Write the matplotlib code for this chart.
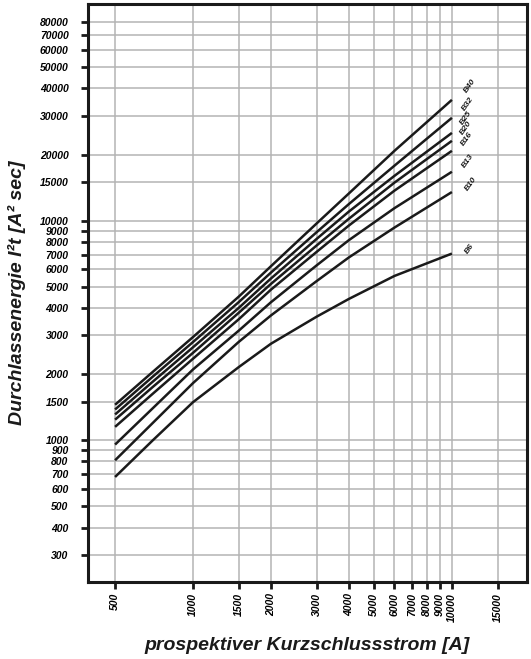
import matplotlib.pyplot as plt
from matplotlib.ticker import FixedLocator, NullLocator, FixedFormatter

# Prospective short-circuit current [A] where the curves were read
current = [500, 700, 1000, 1500, 2000, 3000, 4000, 6000, 10000]

# Let-through energy I²t [A² s] per breaker rating
curves = {
    'B40': [1450, 2050, 2950, 4500, 6200, 9700, 13300, 20800, 35500],
    'B32': [1380, 1950, 2800, 4250, 5800, 8850, 11900, 17800, 29400],
    'B25': [1310, 1850, 2650, 4000, 5450, 8250, 11000, 16000, 25100],
    'B20': [1240, 1750, 2500, 3800, 5150, 7700, 10200, 14900, 23100],
    'B16': [1150, 1630, 2350, 3550, 4850, 7200, 9500, 13700, 20800],
    'B13': [955, 1400, 2100, 3150, 4250, 6250, 8150, 11400, 16700],
    'B10': [810, 1200, 1820, 2800, 3700, 5300, 6800, 9300, 13500],
    'B6':  [680, 1000, 1490, 2150, 2750, 3650, 4400, 5600, 7080],
}
label_offsets = {'B40': (18, 14), 'B32': (16, 14), 'B25': (14, 15), 'B20': (14, 13),
                 'B16': (15, 12), 'B13': (16, 11), 'B10': (19, 8), 'B6': (18, 5)}

x_ticks = [500, 1000, 1500, 2000, 3000, 4000, 5000, 6000, 7000, 8000, 9000, 10000, 15000]
y_ticks = [300, 400, 500, 600, 700, 800, 900, 1000, 1500, 2000, 3000, 4000, 5000,
           6000, 7000, 8000, 9000, 10000, 15000, 20000, 30000, 40000, 50000,
           60000, 70000, 80000]

plt.rcParams['font.family'] = 'Liberation Sans'

fig = plt.figure(figsize=(5.31, 6.59), dpi=100)
ax = fig.add_axes([88/531, 1 - 582/659, (527 - 88)/531, (582 - 4)/659])
ax.set_xscale('log')
ax.set_yscale('log')
ax.set_xlim(393, 19500)
ax.set_ylim(226, 97000)

ax.xaxis.set_major_locator(FixedLocator(x_ticks))
ax.xaxis.set_major_formatter(FixedFormatter([str(v) for v in x_ticks]))
ax.xaxis.set_minor_locator(NullLocator())
ax.yaxis.set_major_locator(FixedLocator(y_ticks))
ax.yaxis.set_major_formatter(FixedFormatter([str(v) for v in y_ticks]))
ax.yaxis.set_minor_locator(NullLocator())

ax.grid(True, color='#b4b4b4', linewidth=1.1)
ax.set_axisbelow(True)

for name, vals in curves.items():
    ax.plot(current, vals, color='#1a1a1a', linewidth=1.8, solid_capstyle='butt',
            solid_joinstyle='round')
    dx, dy = label_offsets[name]
    ax.annotate(name, xy=(current[-1], vals[-1]), xytext=(dx * 0.72, dy * 0.72),
                textcoords='offset points', ha='center', va='center',
                rotation=55, fontsize=6, fontweight='bold', fontstyle='italic',
                color='#1a1a1a')

for s in ax.spines.values():
    s.set_linewidth(2.2)
    s.set_color('#1a1a1a')

ax.tick_params(axis='both', which='major', direction='out', length=5, width=2,
               color='#1a1a1a', labelsize=7.5)
ax.tick_params(axis='x', pad=3)
ax.tick_params(axis='y', pad=9)
for lbl in ax.get_xticklabels():
    lbl.set_rotation(90)
    lbl.set_fontweight('bold')
    lbl.set_fontstyle('italic')
for lbl in ax.get_yticklabels():
    lbl.set_fontweight('bold')
    lbl.set_fontstyle('italic')

ax.set_xlabel('prospektiver Kurzschlussstrom [A]', fontsize=14, fontweight='bold',
              fontstyle='italic', labelpad=11, color='#1a1a1a')
ax.set_ylabel('Durchlassenergie I²t [A² sec]', fontsize=14, fontweight='bold',
              fontstyle='italic', labelpad=10, color='#1a1a1a')

fig.savefig('out.png', dpi=100)
